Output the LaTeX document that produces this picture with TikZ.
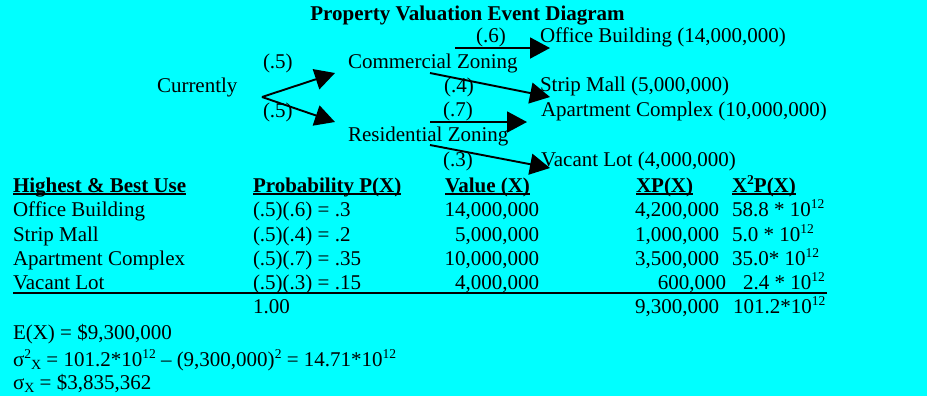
\documentclass[tikz,border=0pt]{standalone}
\usepackage{fontspec}
\setmainfont{Liberation Serif}
\usetikzlibrary{arrows.meta}
\definecolor{bgcyan}{RGB}{0,255,255}
% small raised / lowered text in the style of a word processor
\newcommand\supx[1]{\raisebox{0.36em}{\fontsize{13.5bp}{14bp}\selectfont #1}}
\newcommand\subx[1]{\raisebox{-0.18em}{\fontsize{14bp}{14bp}\selectfont #1}}
% bold underlined column heading; the rule crosses the descenders
\newcommand\hdr[1]{\setbox0\hbox{\bfseries #1}\rlap{\rule[-2.8bp]{\wd0}{1.4bp}}\box0}

\begin{document}
\begin{tikzpicture}[x=1bp,y=-1bp,
  txt/.style={inner sep=0pt, outer sep=0pt, font=\fontsize{21bp}{24bp}\selectfont},
  lt/.style={txt, anchor=base west},
  rt/.style={txt, anchor=base east},
  ct/.style={txt, anchor=base},
  branch/.style={line width=1.9bp, -{Triangle[length=20bp,width=21bp]}},
  rulebar/.style={line width=1.4bp}]

% background
\fill[bgcyan] (0,0) rectangle (927,396);
\useasboundingbox (0,0) rectangle (927,396);

% title
\node[ct, font=\fontsize{21bp}{24bp}\selectfont\bfseries] (title) at (467.5,20) {Property Valuation Event Diagram};

% event tree
\node[lt] (cur) at (157,92) {Currently};
\node[lt] (pc) at (263,68) {(.5)};
\node[lt] (pr) at (263,117) {(.5)};
\node[lt] (com) at (348,68) {Commercial Zoning};
\node[lt] (res) at (348,141) {Residential Zoning};
\node[ct] (p6) at (491,42) {(.6)};
\node[ct] (p4) at (459,92) {(.4)};
\node[ct] (p7) at (458,116) {(.7)};
\node[ct] (p3) at (458,166) {(.3)};
\node[lt] (ob) at (540,42) {Office Building (14,000,000)};
\node[lt] (sm) at (540,91) {Strip Mall (5,000,000)};
\node[lt] (ac) at (541,116) {Apartment Complex (10,000,000)};
\node[lt] (vl) at (541,166) {Vacant Lot (4,000,000)};

\coordinate (curOut) at (262,97);
\coordinate (comIn) at (335,73);
\coordinate (resIn) at (335,122);
\coordinate (comOutA) at (455,48);
\coordinate (obIn) at (550,48);
\coordinate (comOutB) at (430,73);
\coordinate (smIn) at (550,97);
\coordinate (resOutA) at (430,122);
\coordinate (acIn) at (527,122);
\coordinate (resOutB) at (430,145);
\coordinate (vlIn) at (550,168);

\draw[branch] (curOut) -- (comIn);
\draw[branch] (curOut) -- (resIn);
\draw[branch] (comOutA) -- (obIn);
\draw[branch] (comOutB) -- (smIn);
\draw[branch] (resOutA) -- (acIn);
\draw[branch] (resOutB) -- (vlIn);

% table headings
\node[lt] (h1) at (13,192) {\hdr{Highest \& Best Use}};
\node[lt] (h2) at (253,192) {\hdr{Probability P(X)}};
\node[lt] (h3) at (445,192) {\hdr{Value (X)}};
\node[lt] (h4) at (636,192) {\hdr{XP(X)}};
\node[lt] (h5) at (732,192) {\hdr{X\supx{2}P(X)}};

% table rows
\node[lt] (u1) at (13,216) {Office Building};
\node[lt] (q1) at (253,216) {(.5)(.6) = .3};
\node[rt] (v1) at (539,216) {14,000,000};
\node[rt] (e1) at (719,216) {4,200,000};
\node[lt] (s1) at (732,216) {58.8 * 10\supx{12}};

\node[lt] (u2) at (13,241) {Strip Mall};
\node[lt] (q2) at (253,241) {(.5)(.4) = .2};
\node[rt] (v2) at (539,241) {5,000,000};
\node[rt] (e2) at (719,241) {1,000,000};
\node[lt] (s2) at (732,241) {5.0 * 10\supx{12}};

\node[lt] (u3) at (13,265) {Apartment Complex};
\node[lt] (q3) at (253,265) {(.5)(.7) = .35};
\node[rt] (v3) at (539,265) {10,000,000};
\node[rt] (e3) at (719,265) {3,500,000};
\node[lt] (s3) at (732,265) {35.0* 10\supx{12}};

\node[lt] (u4) at (13,289) {Vacant Lot};
\node[lt] (q4) at (253,289) {(.5)(.3) = .15};
\node[rt] (v4) at (539,289) {4,000,000};
\node[rt] (e4) at (726,289) {600,000};
\node[lt] (s4) at (743,289) {2.4 * 10\supx{12}};

\draw[rulebar] (13,293) -- (827,293);

% totals
\node[lt] (qt) at (253,313) {1.00};
\node[rt] (et) at (719,313) {9,300,000};
\node[lt] (st) at (733,313) {101.2*10\supx{12}};

% summary
\node[lt] (ex) at (13,339) {E(X) = \$9,300,000};
\node[lt] (var) at (13,366) {σ\supx{2}\subx{X} = 101.2*10\supx{12} – (9,300,000)\supx{2} = 14.71*10\supx{12}};
\node[lt] (sd) at (13,389) {σ\subx{X} = \$3,835,362};
\end{tikzpicture}
\end{document}
